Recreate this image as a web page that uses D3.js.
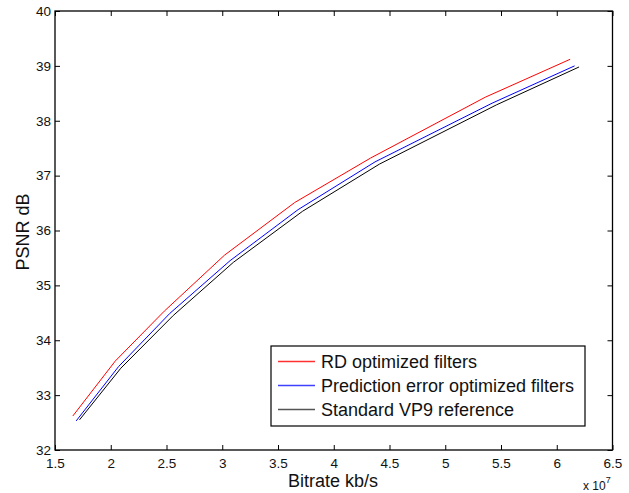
<!DOCTYPE html>
<html>
<head>
<meta charset="utf-8">
<script src="https://cdn.jsdelivr.net/npm/d3@7"></script>
<style>
  body { margin: 0; background: #fff; }
  svg { font-family: "Liberation Sans", Arial, sans-serif; }
</style>
</head>
<body>
<svg id="chart" width="629" height="493"></svg>
<script>
// bitrate in units of 1e7 kb/s, PSNR in dB
const rdBitrate = [1.66, 2.04, 2.48, 3.02, 3.65, 4.33, 5.36, 6.12]
const rdPsnr = [32.62, 33.62, 34.53, 35.55, 36.51, 37.32, 38.43, 39.12]

const peBitrate = [1.69, 2.07, 2.53, 3.07, 3.68, 4.37, 5.42, 6.16]
const pePsnr = [32.53, 33.52, 34.49, 35.45, 36.38, 37.25, 38.32, 39.0]

const refBitrate = [1.72, 2.09, 2.56, 3.10, 3.72, 4.41, 5.46, 6.2]
const refPsnr = [32.55, 33.49, 34.45, 35.42, 36.35, 37.21, 38.29, 38.98]

const seriesNames = ["RD optimized filters", "Prediction error optimized filters", "Standard VP9 reference"]
const seriesColors = ["#ff0000", "#0000ff", "#000000"]
const legendColors = ["#ff3030", "#4040ff", "#555555"]

const xTicks = [1.5, 2, 2.5, 3, 3.5, 4, 4.5, 5, 5.5, 6, 6.5]
const yTicks = [32, 33, 34, 35, 36, 37, 38, 39, 40]

const svg = d3.select("#chart")
const plot = { left: 55, right: 612.5, top: 11, bottom: 450 }

const x = d3.scaleLinear().domain([1.5, 6.5]).range([plot.left, plot.right])
const y = d3.scaleLinear().domain([32, 40]).range([plot.bottom, plot.top])

const pointSets = [
  rdBitrate.map((b, i) => [b, rdPsnr[i]]),
  peBitrate.map((b, i) => [b, pePsnr[i]]),
  refBitrate.map((b, i) => [b, refPsnr[i]]),
]
const series = seriesNames.map((name, i) => ({
  name,
  color: seriesColors[i],
  legendColor: legendColors[i],
  pts: pointSets[i],
}))

// ticks pointing inward on all four sides
const tickLen = 5
svg.append("g")
  .attr("transform", `translate(0,${plot.bottom})`)
  .call(d3.axisBottom(x).tickValues(xTicks).tickSizeInner(-tickLen).tickSizeOuter(0).tickPadding(8).tickFormat(d3.format("")))
  .call((g) => g.select(".domain").remove())
  .call((g) => g.selectAll("text").attr("font-size", 13.5).attr("fill", "#111"))
svg.append("g")
  .attr("transform", `translate(0,${plot.top})`)
  .call(d3.axisTop(x).tickValues(xTicks).tickSizeInner(-tickLen).tickSizeOuter(0).tickFormat(""))
  .call((g) => g.select(".domain").remove())
svg.append("g")
  .attr("transform", `translate(${plot.left},0)`)
  .call(d3.axisLeft(y).tickValues(yTicks).tickSizeInner(-tickLen).tickSizeOuter(0).tickPadding(4))
  .call((g) => g.select(".domain").remove())
  .call((g) => g.selectAll("text").attr("font-size", 13.5).attr("fill", "#111"))
svg.append("g")
  .attr("transform", `translate(${plot.right},0)`)
  .call(d3.axisRight(y).tickValues(yTicks).tickSizeInner(-tickLen).tickSizeOuter(0).tickFormat(""))
  .call((g) => g.select(".domain").remove())

svg.selectAll(".tick line").attr("stroke", "#000").attr("stroke-width", 1)

// box
svg.append("rect")
  .attr("x", plot.left).attr("y", plot.top)
  .attr("width", plot.right - plot.left).attr("height", plot.bottom - plot.top)
  .attr("fill", "none").attr("stroke", "#000").attr("stroke-width", 1.3)

const line = d3.line().x((d) => x(d[0])).y((d) => y(d[1]))

svg.append("g").selectAll("path")
  .data(series.slice().reverse())
  .join("path")
  .attr("d", (d) => line(d.pts))
  .attr("fill", "none")
  .attr("stroke", (d) => d.color)
  .attr("stroke-width", 1)

// axis labels
svg.append("text")
  .attr("x", 333).attr("y", 487)
  .attr("text-anchor", "middle").attr("font-size", 18).attr("fill", "#111")
  .text("Bitrate kb/s")
svg.append("text")
  .attr("transform", `translate(29,232) rotate(-90)`)
  .attr("text-anchor", "middle").attr("font-size", 18).attr("fill", "#111")
  .text("PSNR dB")

const exp = svg.append("text").attr("x", 583).attr("y", 490).attr("font-size", 12).attr("fill", "#111")
exp.append("tspan").text("x 10")
exp.append("tspan").attr("dy", -7).attr("font-size", 9).text("7")

// legend
const lg = svg.append("g").attr("transform", "translate(271,346)")
lg.append("rect").attr("width", 314).attr("height", 80)
  .attr("fill", "#fff").attr("stroke", "#000").attr("stroke-width", 1.2)
const rows = lg.selectAll("g.row").data(series).join("g")
  .attr("class", "row")
  .attr("transform", (d, i) => `translate(0,${15.5 + i * 24})`)
rows.append("path").attr("d", "M7,0H44")
  .attr("fill", "none")
  .attr("stroke", (d) => d.legendColor).attr("stroke-width", 1.5)
rows.append("text").attr("x", 50).attr("dy", "0.35em")
  .attr("font-size", 18).attr("fill", "#111")
  .text((d) => d.name)
</script>
</body>
</html>
